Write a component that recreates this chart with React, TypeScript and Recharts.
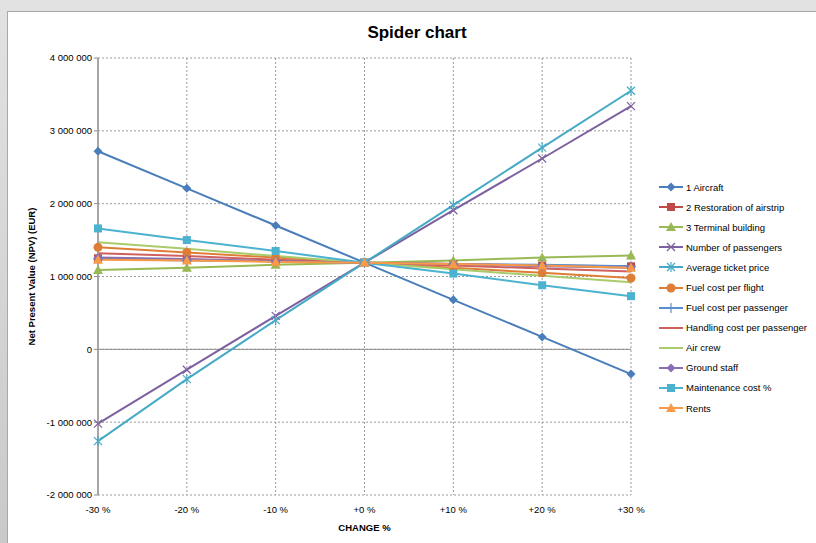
import React from "react";
import {
  LineChart,
  Line,
  CartesianGrid,
  XAxis,
  YAxis,
  Legend,
  ReferenceLine,
} from "recharts";

const categories = ["-30 %", "-20 %", "-10 %", "+0 %", "+10 %", "+20 %", "+30 %"];
const yTicks = [-2000000, -1000000, 0, 1000000, 2000000, 3000000, 4000000];

const aircraft = [2720000, 2210000, 1700000, 1190000, 680000, 170000, -340000];
const restoration = [1250000, 1230000, 1210000, 1190000, 1170000, 1150000, 1140000];
const terminal = [1090000, 1120000, 1160000, 1190000, 1220000, 1260000, 1290000];
const passengers = [-1020000, -280000, 460000, 1190000, 1910000, 2620000, 3340000];
const ticketPrice = [-1260000, -410000, 400000, 1190000, 1980000, 2770000, 3550000];
const fuelFlight = [1400000, 1330000, 1260000, 1190000, 1120000, 1050000, 980000];
const fuelPassenger = [1240000, 1220000, 1210000, 1190000, 1170000, 1160000, 1140000];
const handling = [1320000, 1280000, 1230000, 1190000, 1150000, 1110000, 1070000];
const airCrew = [1470000, 1380000, 1280000, 1190000, 1100000, 1010000, 920000];
const groundStaff = [1260000, 1240000, 1210000, 1190000, 1170000, 1140000, 1120000];
const maintenance = [1660000, 1500000, 1350000, 1190000, 1040000, 880000, 730000];
const rents = [1230000, 1220000, 1200000, 1190000, 1170000, 1150000, 1120000];

type MarkerKind = "diamond" | "square" | "triangle" | "x" | "asterisk" | "circle" | "plus" | "none";

const series: { key: string; name: string; values: number[]; color: string; marker: MarkerKind }[] = [
  { key: "s1", name: "1 Aircraft", values: aircraft, color: "#4A7EBB", marker: "diamond" },
  { key: "s2", name: "2 Restoration of airstrip", values: restoration, color: "#BE4B48", marker: "square" },
  { key: "s3", name: "3 Terminal building", values: terminal, color: "#98B954", marker: "triangle" },
  { key: "s4", name: "Number of passengers", values: passengers, color: "#7D60A0", marker: "x" },
  { key: "s5", name: "Average ticket price", values: ticketPrice, color: "#46AAC5", marker: "asterisk" },
  { key: "s6", name: "Fuel cost per flight", values: fuelFlight, color: "#DE7E36", marker: "circle" },
  { key: "s7", name: "Fuel cost per passenger", values: fuelPassenger, color: "#5B8ED0", marker: "plus" },
  { key: "s8", name: "Handling cost per passenger", values: handling, color: "#D0605D", marker: "none" },
  { key: "s9", name: "Air crew", values: airCrew, color: "#A9CB6C", marker: "none" },
  { key: "s10", name: "Ground staff", values: groundStaff, color: "#8B6FB0", marker: "diamond" },
  { key: "s11", name: "Maintenance cost %", values: maintenance, color: "#4BB2CF", marker: "square" },
  { key: "s12", name: "Rents", values: rents, color: "#F99A48", marker: "triangle" },
];

const data = categories.map((c, i) => {
  const row: Record<string, string | number> = { change: c };
  series.forEach((s) => {
    row[s.key] = s.values[i];
  });
  return row;
});

const FONT = "'Liberation Sans', Arial, sans-serif";

function formatNumber(v: number) {
  const s = Math.abs(v).toString().replace(/\B(?=(\d{3})+(?!\d))/g, " ");
  return v < 0 ? "-" + s : s;
}

function Marker({ cx, cy, kind, color }: { cx: number; cy: number; kind: MarkerKind; color: string }) {
  if (cx == null || cy == null) return null;
  switch (kind) {
    case "diamond":
      return <polygon points={`${cx},${cy - 4.5} ${cx + 4.5},${cy} ${cx},${cy + 4.5} ${cx - 4.5},${cy}`} fill={color} />;
    case "square":
      return <rect x={cx - 4} y={cy - 4} width={8} height={8} fill={color} />;
    case "triangle":
      return <polygon points={`${cx},${cy - 5} ${cx + 5},${cy + 4} ${cx - 5},${cy + 4}`} fill={color} />;
    case "circle":
      return <circle cx={cx} cy={cy} r={4.5} fill={color} />;
    case "x":
      return (
        <g stroke={color} strokeWidth={1.2}>
          <line x1={cx - 4} y1={cy - 4} x2={cx + 4} y2={cy + 4} />
          <line x1={cx - 4} y1={cy + 4} x2={cx + 4} y2={cy - 4} />
        </g>
      );
    case "asterisk":
      return (
        <g stroke={color} strokeWidth={1.2}>
          <line x1={cx - 4} y1={cy - 4} x2={cx + 4} y2={cy + 4} />
          <line x1={cx - 4} y1={cy + 4} x2={cx + 4} y2={cy - 4} />
          <line x1={cx} y1={cy - 5} x2={cx} y2={cy + 5} />
        </g>
      );
    case "plus":
      return (
        <g stroke={color} strokeWidth={1.2}>
          <line x1={cx - 5} y1={cy} x2={cx + 5} y2={cy} />
          <line x1={cx} y1={cy - 5} x2={cx} y2={cy + 5} />
        </g>
      );
    default:
      return null;
  }
}

function LegendContent() {
  return (
    <div style={{ fontFamily: FONT, fontSize: 9.5, color: "#000" }}>
      {series.map((s) => (
        <div key={s.key} style={{ display: "flex", alignItems: "center", height: 20.1 }}>
          <svg width={26} height={12} style={{ marginRight: 2 }}>
            <line x1={1} y1={6} x2={25} y2={6} stroke={s.color} strokeWidth={2} />
            <Marker cx={13} cy={6} kind={s.marker} color={s.color} />
          </svg>
          <span>{s.name}</span>
        </div>
      ))}
    </div>
  );
}

export default function App() {
  return (
    <div
      style={{
        position: "absolute",
        left: 0,
        top: 0,
        width: 816,
        height: 543,
        background: "linear-gradient(#e2e2e2, #c9c9c9)",
        overflow: "hidden",
      }}
    >
      <div
        style={{
          position: "absolute",
          left: 7,
          top: 11,
          width: 809,
          height: 532,
          background: "#fff",
          borderLeft: "1px solid #a8a8a8",
          borderTop: "1px solid #a8a8a8",
        }}
      />
      <div
        style={{
          position: "absolute",
          left: 0,
          top: 23,
          width: 834,
          textAlign: "center",
          fontFamily: FONT,
          fontWeight: "bold",
          fontSize: 17,
        }}
      >
        Spider chart
      </div>
      <div style={{ position: "absolute", left: 0, top: 0 }}>
        <LineChart width={816} height={543} data={data} margin={{ top: 58, right: 27, bottom: 8, left: 21 }}>
          <CartesianGrid stroke="#9a9a9a" strokeDasharray="2 2" />
          <XAxis
            dataKey="change"
            axisLine={false}
            tickLine={false}
            height={40}
            interval={0}
            tick={{ fontSize: 9.5, fill: "#000", fontFamily: FONT, dy: 3 }}
            label={{
              value: "CHANGE %",
              position: "insideBottom",
              offset: 4,
              style: { fontSize: 9.5, fontWeight: "bold", fill: "#000", fontFamily: FONT },
            }}
          />
          <YAxis
            width={77}
            domain={[-2000000, 4000000]}
            ticks={yTicks}
            interval={0}
            tickFormatter={formatNumber}
            axisLine={{ stroke: "#a6a6a6", strokeWidth: 2 }}
            tickLine={{ stroke: "#8c8c8c" }}
            tickSize={4}
            tick={{ fontSize: 9.5, fill: "#000", fontFamily: FONT }}
            label={{
              value: "Net Present Value (NPV) (EUR)",
              angle: -90,
              position: "insideLeft",
              offset: 11,
              style: { textAnchor: "middle", fontSize: 9.5, fontWeight: "bold", fill: "#000", fontFamily: FONT },
            }}
          />
          <ReferenceLine y={0} stroke="#8c8c8c" strokeWidth={1} />
          <Legend
            layout="vertical"
            align="right"
            verticalAlign="top"
            wrapperStyle={{ left: 658, top: 177, width: 158 }}
            content={() => <LegendContent />}
          />
          {series.map((s) => (
            <Line
              key={s.key}
              dataKey={s.key}
              name={s.name}
              type="linear"
              stroke={s.color}
              strokeWidth={2}
              isAnimationActive={false}
              dot={(p: any) => (
                <Marker key={`${s.key}-${p.index}`} cx={p.cx} cy={p.cy} kind={s.marker} color={s.color} />
              )}
              activeDot={false}
            />
          ))}
        </LineChart>
      </div>
    </div>
  );
}
